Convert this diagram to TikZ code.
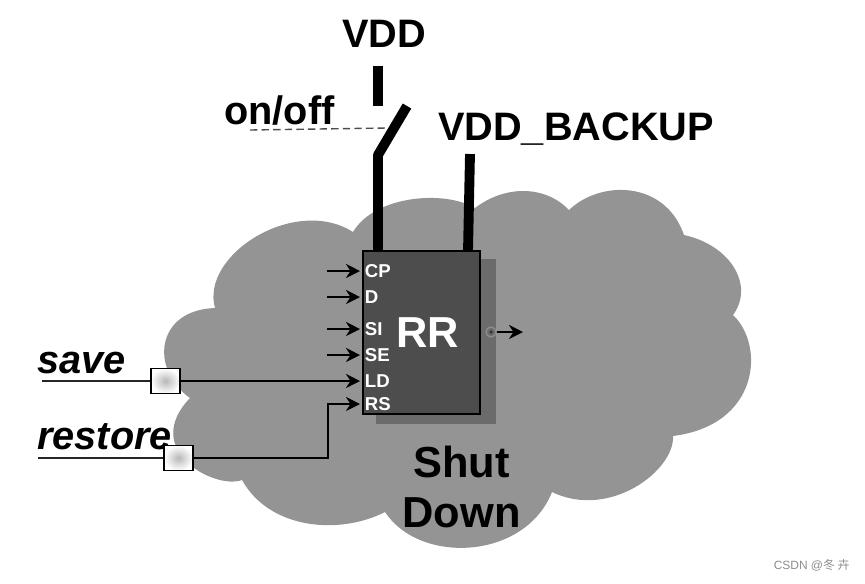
\documentclass[tikz,border=0pt]{standalone}
\usepackage{fontspec}
\setmainfont{Liberation Sans}
\newfontfamily\cjkfont{Noto Sans CJK SC}
\usepackage{xcolor}
\usetikzlibrary{arrows.meta,positioning}
\definecolor{clouddark}{RGB}{148,148,148}
\definecolor{chipdark}{RGB}{77,77,77}
\definecolor{chipshade}{RGB}{107,107,107}

\begin{document}
\begin{tikzpicture}[x=0.02cm,y=-0.02cm,
    rail/.style={line width=6.2pt,black},
    wire/.style={line width=0.9pt,black!85},
    inarrow/.style={line width=0.9pt,black,-{Stealth[length=8pt,width=8pt]}},
    pin/.style={anchor=west,inner xsep=2.8pt,inner ysep=0pt,outer sep=0pt,font=\fontsize{10.6}{12}\bfseries,text=white},
    biglabel/.style={inner sep=0pt,font=\fontsize{22.6}{26}\bfseries},
    keeper/.style={draw=black,line width=1pt,minimum width=0.58cm,minimum height=0.5cm,inner color=black!28,outer color=white}]
  \useasboundingbox (0,0) rectangle (865,583);

  \coordinate (A) at (215,308); \coordinate (C) at (353,232); \coordinate (D) at (475,208);
  \coordinate (E) at (569,210); \coordinate (F) at (684,235); \coordinate (G) at (733,315);
  \coordinate (H) at (673,436); \coordinate (I) at (552,492); \coordinate (J) at (385,512);
  \coordinate (K) at (242,480); \coordinate (L) at (190,398);

  \fill[clouddark] (A) .. controls (200,255) and (295,195) .. (C)
    .. controls (375,195) and (445,190) .. (D)
    .. controls (505,185) and (545,185) .. (E)
    .. controls (600,180) and (665,180) .. (F)
    .. controls (730,245) and (755,285) .. (G)
    .. controls (765,345) and (760,425) .. (H)
    .. controls (675,470) and (610,520) .. (I)
    .. controls (525,560) and (420,565) .. (J)
    .. controls (340,535) and (270,530) .. (K)
    .. controls (215,490) and (140,450) .. (L)
    .. controls (150,370) and (155,310) .. (A) -- cycle;

  \fill[chipshade] (376,259) rectangle (496,424);
  \node[draw=black,line width=1.2pt,fill=chipdark,minimum width=2.34cm,minimum height=3.26cm,inner sep=0pt] (chip) at (421.5,332.5) {};
  \node[anchor=base,inner sep=0pt,font=\fontsize{24.7}{28}\bfseries,text=white] (rr) at (428,347) {RR};

  \node[biglabel,anchor=base] (vdd) at (384,47) {VDD};
  \node[biglabel,anchor=base] (backup) at (576,140) {VDD\_BACKUP};
  \node[biglabel,anchor=base west] (onoff) at (224,124) {on/off};
  \node[biglabel,anchor=base west,font=\fontsize{22.6}{26}\bfseries\itshape] (save) at (37,373) {save};
  \node[biglabel,anchor=base west,font=\fontsize{22.6}{26}\bfseries\itshape] (restore) at (37,449) {restore};
  \node[anchor=base,inner sep=0pt,font=\fontsize{24.7}{28}\bfseries] (shut) at (461.5,477) {Shut};
  \node[anchor=base,inner sep=0pt,font=\fontsize{24.7}{28}\bfseries] (down) at (461.5,527) {Down};

  % power rails and switch
  \coordinate (vddtop) at (378,66); \coordinate (vddend) at (378,106);
  \coordinate (blade) at (407,106); \coordinate (hinge) at (378,155);
  \coordinate (backuptop) at (470,154);
  \draw[rail] (vddtop) -- (vddend);
  \draw[rail,line width=5.6pt,line join=bevel] (blade) -- (hinge) -- ++(0,8) -- (hinge |- chip.north);
  \draw[rail,line width=5.6pt] (backuptop) -- (468,251);
  \coordinate (dashleft) at (250,130); \coordinate (dashright) at (386,128);
  \draw[line width=0.8pt,black!70,dash pattern=on 4.2pt off 2.4pt] (dashleft) -- (dashright);

  \node[pin] (CP) at (360,271) {CP};
  \node[pin] (Dpin) at (360,297) {D};
  \node[pin] (SI) at (360,329) {SI};
  \node[pin] (SE) at (360,355) {SE};
  \node[pin] (LD) at (360,381) {LD};
  \node[pin] (RS) at (360,404) {RS};

  \foreach \p/\y in {CP/271,Dpin/297,SI/329,SE/355} {
    \coordinate (in\p) at (327,\y);
    \draw[inarrow] (in\p) -- (\p.west);
  }

  \node[keeper] (savebox) at (165.5,381) {};
  \node[keeper] (restorebox) at (178.5,458) {};
  \coordinate (savein) at (42,381); \coordinate (restorein) at (38,458); \coordinate (restoreturn) at (328,458);
  \draw[wire] (savein) -- (savebox);
  \draw[inarrow] (savebox) -- (LD.west);
  \draw[wire] (restorein) -- (restorebox);
  \draw[inarrow] (restorebox) -- (restoreturn) |- (RS.west);

  \node[circle,draw=black!45,line width=0.8pt,fill=chipshade,minimum size=0.2cm,inner sep=0pt] (qpin) at (491,332) {};
  \fill[black!80] (qpin.center) circle (1pt);
  \coordinate (qout) at (523,332);
  \draw[inarrow] (qpin) -- (qout);

  \node[anchor=base east,inner sep=0pt,text=black!45,font=\fontsize{6.8}{8}\selectfont] (mark) at (850,569) {CSDN @{\cjkfont 冬 卉}};
\end{tikzpicture}
\end{document}
